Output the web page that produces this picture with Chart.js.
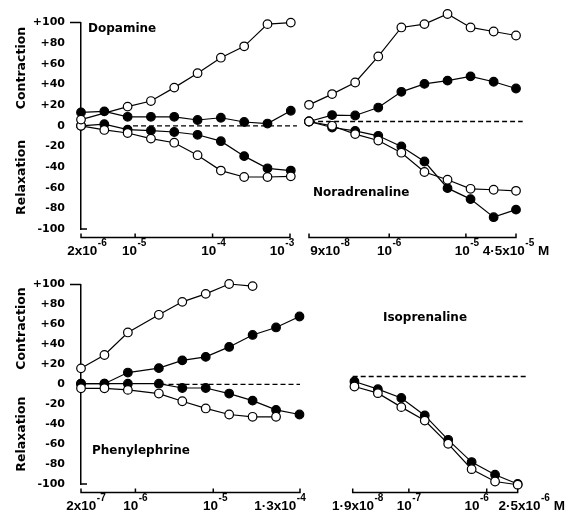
<!DOCTYPE html>
<html><head><meta charset="utf-8">
<script src="https://cdn.jsdelivr.net/npm/chart.js@4.4.1/dist/chart.umd.min.js"></script>
<style>
html,body{margin:0;padding:0;background:#fff;}
#wrap{position:relative;width:576px;height:518px;overflow:hidden;background:#fff;}
canvas{position:absolute;}
</style></head><body>
<div id="wrap">
<canvas id="c1" width="300" height="262" style="left:0;top:0"></canvas>
<canvas id="c2" width="276" height="262" style="left:300px;top:0"></canvas>
<canvas id="c3" width="320" height="256" style="left:0;top:262px"></canvas>
<canvas id="c4" width="256" height="256" style="left:320px;top:262px"></canvas>
</div>
<script>
// ---------- DATA ----------
const yTickValues = [100, 80, 60, 40, 20, 0, -20, -40, -60, -80, -100];
const yTickLabels = ['+100', '+80', '+60', '+40', '+20', '0', '-20', '-40', '-60', '-80', '-100'];

// Dopamine (M)
const dopConc        = [2e-6, 4e-6, 8e-6, 1.6e-5, 3.2e-5, 6.4e-5, 1.28e-4, 2.56e-4, 5.12e-4, 1.024e-3];
const dopOpenUp      = [6, null, 18.6, 24, 37, 51, 66, 77, 98.5, 100];
const dopFilledUp    = [13, 14, 8.7, 8.7, 8.7, 5.6, 7.8, 3.7, 2.2, 14.6];
const dopFilledDown  = [0, 1.6, -3.7, -4.6, -6, -8.7, -14.9, -29.4, -41.2, -43.4];
const dopOpenDown    = [0, -4, -7, -12.4, -16.4, -28.5, -43.4, -49.6, -49.6, -49];
const dopZero        = [9.4e-6, 1.23e-3];
const dopTicks       = [2e-6, 1e-5, 1e-4, 1e-3];
const dopTickLabels  = ['2x10^-6', '10^-5', '10^-4', '10^-3'];

// Noradrenaline (M)
const noraConc       = [9e-8, 1.8e-7, 3.6e-7, 7.2e-7, 1.44e-6, 2.88e-6, 5.76e-6, 1.15e-5, 2.3e-5, 4.5e-5];
const noraOpenUp     = [15.5, 25.5, 36.3, 60.5, 87.5, 90.6, 100, 87.5, 83.7, 80];
const noraFilledUp   = [0, 6, 5.6, 13, 27.6, 35, 38, 42, 37, 30.7];
const noraFilledDown = [0, -5.6, -8.7, -13.3, -23.2, -37.2, -62, -72.2, -89, -82];
const noraOpenDown   = [0, -4, -11.7, -17.7, -29, -47, -54.2, -62.6, -63.5, -64.5];
const noraZero       = [9.3e-8, 5.5e-5];
const noraTicks      = [9e-8, 1e-6, 1e-5, 4.5e-5];
const noraTickLabels = ['9x10^-8', '10^-6', '10^-5', '4·5x10^-5 M'];

// Phenylephrine (M)
const pheConc        = [2e-7, 4e-7, 8e-7, 2e-6, 4e-6, 8e-6, 1.6e-5, 3.2e-5, 6.4e-5, 1.28e-4];
const pheOpenUp      = [16, 29.4, 52, 69.7, 82.7, 90.7, 100.6, 98.5, null, null];
const pheFilledUp    = [0.6, 0.6, 11.8, 16.2, 24, 27.5, 37.5, 49.5, 57, 68];
const pheFilledDown  = [0.6, 0.6, 0.6, 0.6, -3.7, -3.7, -9.3, -16.4, -25.7, -30.3];
const pheOpenDown    = [-4, -4, -5.6, -9.3, -17, -24.2, -30.3, -32.6, -32.6, null];
const pheZero        = [2.1e-6, 1.3e-4];
const pheTicks       = [2e-7, 1e-6, 1e-5, 1.3e-4];
const pheTickLabels  = ['2x10^-7', '10^-6', '10^-5', '1·3x10^-4'];

// Isoprenaline (M)
const isoConc        = [2e-8, 4e-8, 8e-8, 1.6e-7, 3.2e-7, 6.4e-7, 1.28e-6, 2.5e-6];
const isoFilled      = [-4.6, -11.8, -20, -36.2, -58.9, -79.6, -91.4, -100];
const isoOpen        = [-9.3, -15.5, -28.5, -41, -62.6, -86.2, -97.7, -100.7];
const isoZero        = [1.9e-8, 3.2e-6];
const isoTicks       = [1.9e-8, 1e-7, 1e-6, 2.5e-6];
const isoTickLabels  = ['1·9x10^-8', '10^-7', '10^-6', '2·5x10^-6 M'];

// ---------- STYLE ----------
const FONT_T = '"DejaVu Sans", sans-serif';
const FONT_X = '"Liberation Sans", Arial, sans-serif';

const decor = {
  id: 'decor',
  afterDraw(chart, args, o) {
    const ctx = chart.ctx, xs = chart.scales.x, ys = chart.scales.y, ca = chart.chartArea;
    ctx.save();
    ctx.fillStyle = '#000'; ctx.strokeStyle = '#000';
    // x axis (detached, below the plot)
    const ay = ca.bottom + 8.5;
    const x0 = xs.getPixelForValue(xs.min), x1 = xs.getPixelForValue(xs.max);
    ctx.lineWidth = 1.5;
    ctx.beginPath();
    ctx.moveTo(x0, ay); ctx.lineTo(x1, ay);
    o.ticks.forEach(v => { const px = xs.getPixelForValue(v); ctx.moveTo(px, ay + 0.7); ctx.lineTo(px, ay - 4); });
    ctx.stroke();
    // tick labels with superscript exponent
    const base = ay + 17;
    ctx.textAlign = 'left'; ctx.textBaseline = 'alphabetic';
    o.labels.forEach((lab, i) => {
      const parts = lab.split('^');
      const mant = parts[0];
      let exp = '', suf = '';
      if (parts.length > 1) { const sp = parts[1].split(' '); exp = sp[0]; suf = sp[1] ? ' ' + sp[1] : ''; }
      const big = 'bold 13.5px ' + FONT_X, small = 'bold 10px ' + FONT_X;
      ctx.font = big; const wm = ctx.measureText(mant).width; const ws = suf ? ctx.measureText(suf).width : 0;
      ctx.font = small; const we = ctx.measureText(exp).width + 0.5;
      let x = xs.getPixelForValue(o.ticks[i]) + (o.nudge[i] || 0) - (wm + we + ws) / 2;
      ctx.font = big; ctx.fillText(mant, x, base); x += wm;
      ctx.font = small; ctx.fillText(exp, x + 0.5, base - 8.8); x += we;
      if (suf) { ctx.font = big; ctx.fillText(suf, x, base); }
    });
    // y axis end ticks and titles
    if (o.showY) {
      const yt = ys.getPixelForValue(100), yb = ys.getPixelForValue(-100), lx = ca.left;
      ctx.lineWidth = 1.5;
      ctx.beginPath();
      ctx.moveTo(lx - 11, yt); ctx.lineTo(lx, yt);
      ctx.moveTo(lx, yb); ctx.lineTo(lx + 6, yb);
      ctx.stroke();
      ctx.font = 'bold 12.5px ' + FONT_T;
      ctx.textAlign = 'center'; ctx.textBaseline = 'middle';
      [['Contraction', 56], ['Relaxation', -50]].forEach(([t, v]) => {
        ctx.save();
        ctx.translate(22, ys.getPixelForValue(v));
        ctx.rotate(-Math.PI / 2);
        ctx.fillText(t, 0, 0);
        ctx.restore();
      });
    }
    // panel title
    ctx.font = 'bold 12px ' + FONT_T;
    ctx.textAlign = 'left'; ctx.textBaseline = 'middle';
    ctx.fillText(o.title, ca.left + o.titleDx, ys.getPixelForValue(o.titleY));
    ctx.restore();
  }
};

function series(conc, values, open) {
  return {
    data: conc.map((x, i) => ({ x, y: values[i] })),
    showLine: true, spanGaps: true, clip: false,
    borderColor: '#000', borderWidth: 1.2,
    pointRadius: 4.3, pointHoverRadius: 4.3, pointBorderWidth: 1.2,
    pointBackgroundColor: open ? '#fff' : '#000', pointBorderColor: '#000'
  };
}
function zeroLine(xr) {
  return {
    data: xr.map(x => ({ x, y: 0 })), showLine: true, clip: false,
    borderColor: '#000', borderWidth: 1.3, borderDash: [5, 3], pointRadius: 0
  };
}

function panel(id, p) {
  const ds = [];
  p.open.forEach(v => ds.push(series(p.conc, v, true)));
  p.filled.forEach(v => ds.push(series(p.conc, v, false)));
  ds.push(zeroLine(p.zero));
  new Chart(document.getElementById(id), {
    type: 'scatter',
    data: { datasets: ds },
    options: {
      responsive: false, animation: false, devicePixelRatio: 1,
      layout: { padding: p.pad },
      plugins: {
        legend: { display: false }, tooltip: { enabled: false },
        decor: { ticks: p.ticks, labels: p.labels, nudge: p.nudge, showY: p.showY,
                 title: p.title, titleDx: p.titleDx, titleY: p.titleY }
      },
      scales: {
        x: { type: 'logarithmic', min: p.xmin, max: p.xmax, display: false },
        y: {
          type: 'linear', min: -100, max: 100, display: p.showY,
          afterBuildTicks: sc => { sc.ticks = yTickValues.slice().reverse().map(v => ({ value: v })); },
          afterFit: sc => { if (p.showY) sc.width = 81; },
          grid: { display: false, drawTicks: false },
          border: { display: true, color: '#000', width: 1.5 },
          ticks: {
            autoSkip: false, padding: 16, color: '#000',
            font: { family: FONT_T, size: 11, weight: 'bold' },
            callback: v => yTickLabels[yTickValues.indexOf(v)]
          }
        }
      }
    },
    plugins: [decor]
  });
}

panel('c1', {
  conc: dopConc, open: [dopOpenUp, dopOpenDown], filled: [dopFilledUp, dopFilledDown], zero: dopZero,
  xmin: 2e-6, xmax: 1e-3, ticks: dopTicks, labels: dopTickLabels, nudge: [6, -1, 1, -8],
  showY: true, pad: { left: 0, right: 10, top: 14, bottom: 33 },
  title: 'Dopamine', titleDx: 7, titleY: 94.4
});
panel('c2', {
  conc: noraConc, open: [noraOpenUp, noraOpenDown], filled: [noraFilledUp, noraFilledDown], zero: noraZero,
  xmin: 9e-8, xmax: 4.5e-5, ticks: noraTicks, labels: noraTickLabels, nudge: [21, 0, 1, 0],
  showY: false, pad: { left: 9, right: 60, top: 14, bottom: 33 },
  title: 'Noradrenaline', titleDx: 4, titleY: -66.5
});
panel('c3', {
  conc: pheConc, open: [pheOpenUp, pheOpenDown], filled: [pheFilledUp, pheFilledDown], zero: pheZero,
  xmin: 2e-7, xmax: 1.3e-4, ticks: pheTicks, labels: pheTickLabels, nudge: [5, 0, 2, -20],
  showY: true, pad: { left: 0, right: 20, top: 7, bottom: 34 },
  title: 'Phenylephrine', titleDx: 11, titleY: -66.5
});
panel('c4', {
  conc: isoConc, open: [isoOpen], filled: [isoFilled], zero: isoZero,
  xmin: 1.9e-8, xmax: 2.5e-6, ticks: isoTicks, labels: isoTickLabels, nudge: [5, 0, -10, 14],
  showY: false, pad: { left: 32.7, right: 58.3, top: 7, bottom: 34 },
  title: 'Isoprenaline', titleDx: 30.3, titleY: 54.4
});
</script>
</body></html>
